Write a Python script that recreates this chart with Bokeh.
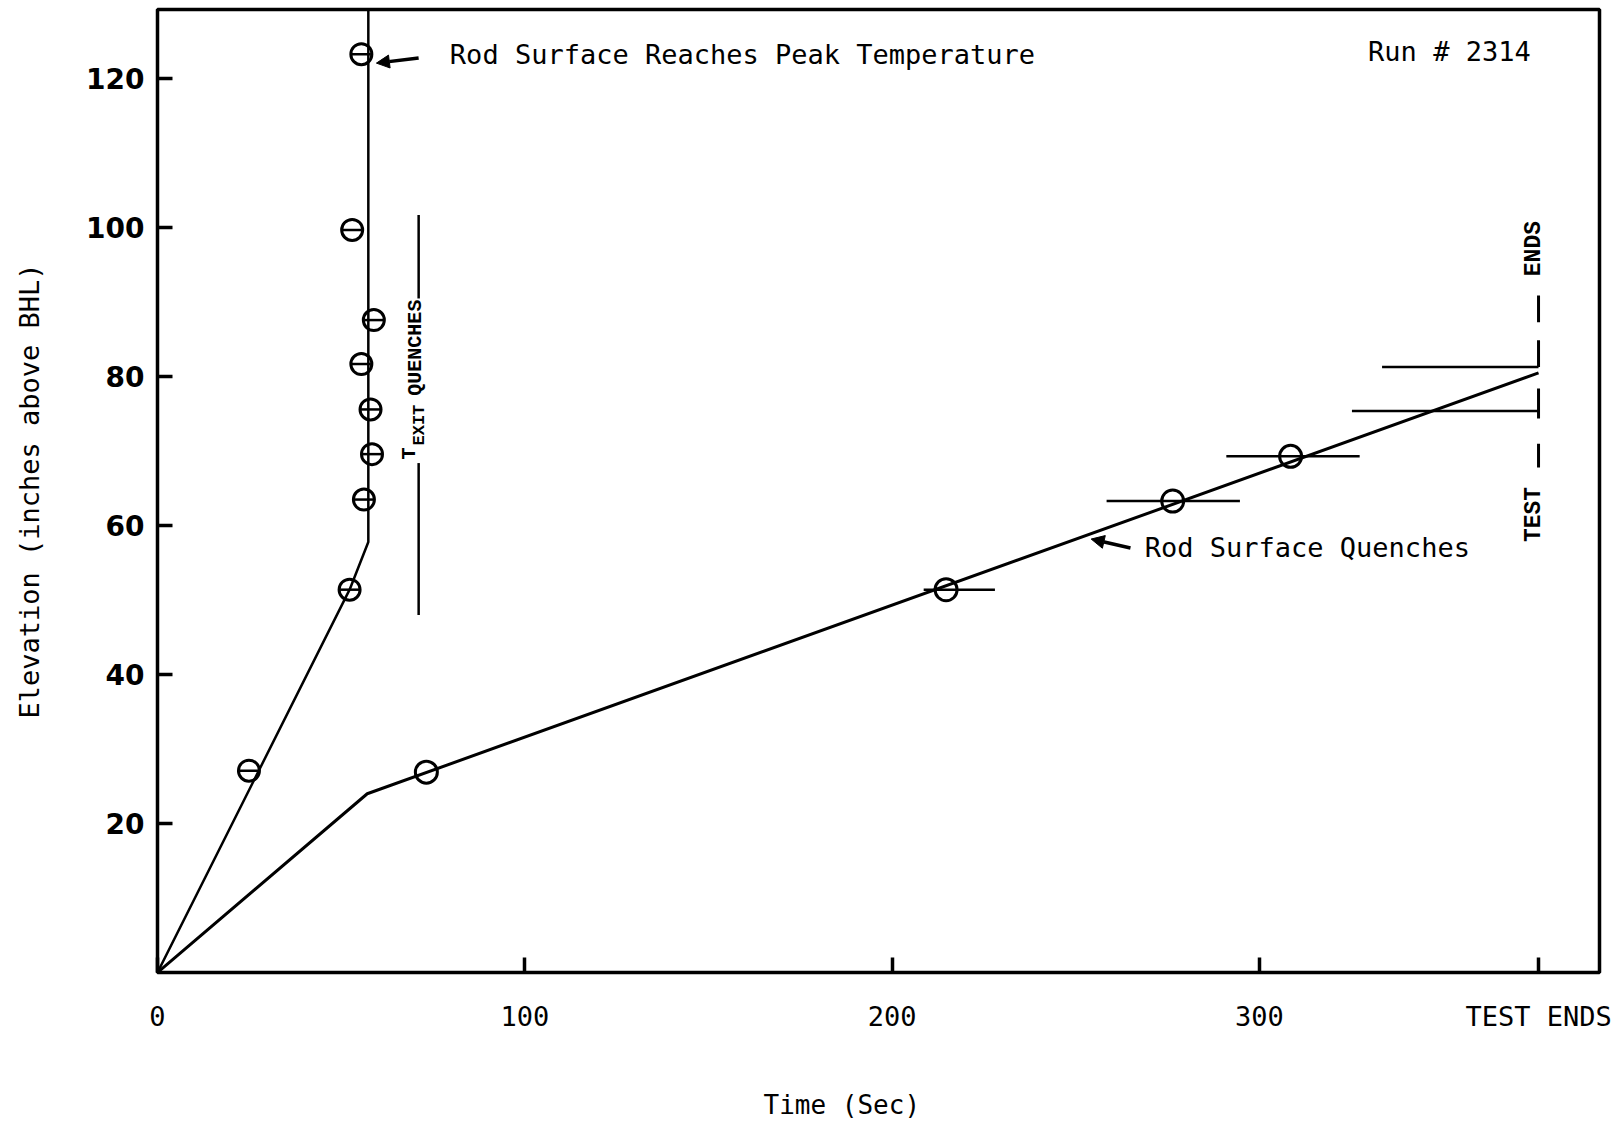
import math
from bokeh.plotting import figure
from bokeh.models import Range1d, FixedTicker, Arrow, NormalHead, Title
from bokeh.core.properties import value
from bokeh.embed import file_html
from bokeh.resources import INLINE

# ---- data ----
peak_time = [24.9, 52.3, 56.2, 58.4, 58.0, 55.5, 58.9, 53.0, 55.5]
peak_elev = [27.1, 51.4, 63.5, 69.6, 75.6, 81.7, 87.6, 99.7, 123.3]
peak_line_time = [0, 52.3, 57.4, 57.4]
peak_line_elev = [0, 51.4, 57.8, 129.3]

quench_time = [73.2, 214.7, 276.4, 308.5]
quench_elev = [26.9, 51.4, 63.3, 69.3]
quench_bar_elev = [51.4, 63.3, 69.3, 75.4, 81.3]
quench_bar_start = [208.6, 258.4, 291.0, 325.2, 333.4]
quench_bar_end = [228.0, 294.7, 327.3, 376.0, 376.0]
quench_line_time = [0, 57.1, 376.0]
quench_line_elev = [0, 24.0, 80.5]

test_end = 376.0
texit_time = 71.1
texit_seg_y0 = [101.7, 68.4]
texit_seg_y1 = [90.5, 48.0]
testend_seg_y0 = [90.9, 84.9, 78.4, 71.0]
testend_seg_y1 = [87.3, 81.3, 74.4, 67.8]

x_ticks = [0, 100, 200, 300, 376]
x_tick_labels = ["0", "100", "200", "300", "TEST ENDS"]
y_ticks = [20, 40, 60, 80, 100, 120]

MONO = value("DejaVu Sans Mono")
BOLDMONO = value("Liberation Mono")

p = figure(width=1614, height=1125, output_backend="svg", toolbar_location=None,
           x_range=Range1d(0, 392.6), y_range=Range1d(0, 129.3),
           min_border_left=157, min_border_right=15, min_border_top=9, min_border_bottom=153)
p.grid.visible = False
p.background_fill_color = "white"
p.border_fill_color = "white"
p.outline_line_color = "black"
p.outline_line_width = 3.5

# axes
p.xaxis.ticker = FixedTicker(ticks=x_ticks)
p.xaxis.major_label_overrides = {t: l for t, l in zip(x_ticks, x_tick_labels)}
p.yaxis.ticker = FixedTicker(ticks=y_ticks)
for ax in (p.xaxis[0], p.yaxis[0]):
    ax.axis_line_color = None
    ax.minor_tick_line_color = None
    ax.major_tick_in = 15
    ax.major_tick_out = 0
    ax.major_tick_line_width = 3.5
    ax.major_tick_line_color = "black"
    ax.major_label_text_color = "black"
    ax.axis_label_text_color = "black"
    ax.axis_label_text_font_style = "normal"
p.xaxis.major_label_text_font = "DejaVu Sans Mono"
p.xaxis.major_label_text_font_size = "27px"
p.xaxis.major_label_standoff = 28
p.yaxis.major_label_text_font = "DejaVu Sans"
p.yaxis.major_label_text_font_style = "bold"
p.yaxis.major_label_text_font_size = "28px"
p.yaxis.major_label_standoff = 13
p.yaxis.axis_label = "Elevation (inches above BHL)"
p.yaxis.axis_label_text_font = "DejaVu Sans Mono"
p.yaxis.axis_label_text_font_size = "27px"
p.yaxis.axis_label_standoff = 38

# spacing panel, then the x axis title below the axis
p.add_layout(Title(text="\u00a0", text_font_size="1px", standoff=50), "below")
p.add_layout(Title(text="Time (Sec)", align="left", offset=606, standoff=0,
                   text_font="DejaVu Sans Mono", text_font_size="26px",
                   text_font_style="normal", text_color="black"), "below")

# curves
p.line(peak_line_time, peak_line_elev, line_color="black", line_width=2.5)
p.line(quench_line_time, quench_line_elev, line_color="black", line_width=3)

# horizontal bars on quench points
p.segment(x0=quench_bar_start, y0=quench_bar_elev, x1=quench_bar_end, y1=quench_bar_elev,
          line_color="black", line_width=2.5)

# markers
p.scatter(peak_time, peak_elev, marker="circle", size=21, fill_color=None,
          line_color="black", line_width=3)
p.scatter(peak_time, peak_elev, marker="dash", size=19, line_color="black", line_width=2.5)
p.scatter(quench_time, quench_elev, marker="circle", size=22, fill_color=None,
          line_color="black", line_width=3)

# T_EXIT quenches marker
p.segment(x0=[texit_time] * 2, y0=texit_seg_y0, x1=[texit_time] * 2, y1=texit_seg_y1,
          line_color="black", line_width=2.5)
p.text(x=[70.3], y=[83.9], text=["QUENCHES"], angle=math.pi / 2,
       text_font=BOLDMONO, text_font_style="bold", text_font_size="20px",
       text_align="center", text_baseline="middle", text_color="black")
p.text(x=[71.3], y=[73.5], text=["EXIT"], angle=math.pi / 2,
       text_font=BOLDMONO, text_font_style="bold", text_font_size="17px",
       text_align="center", text_baseline="middle", text_color="black")
p.text(x=[68.7], y=[69.7], text=["T"], angle=math.pi / 2,
       text_font=BOLDMONO, text_font_style="bold", text_font_size="20px",
       text_align="center", text_baseline="middle", text_color="black")

# TEST ENDS marker on the right
p.segment(x0=[test_end] * 4, y0=testend_seg_y0, x1=[test_end] * 4, y1=testend_seg_y1,
          line_color="black", line_width=3)
p.text(x=[374.7, 374.7], y=[97.2, 61.5], text=["ENDS", "TEST"], angle=math.pi / 2,
       text_font=BOLDMONO, text_font_style="bold", text_font_size="23px",
       text_align="center", text_baseline="middle", text_color="black")

# annotations
p.text(x=[79.6], y=[123.2], text=["Rod Surface Reaches Peak Temperature"], text_font=MONO,
       text_font_size="27px", text_align="left", text_baseline="middle", text_color="black")
p.text(x=[329.6], y=[123.6], text=["Run # 2314"], text_font=MONO,
       text_font_size="27px", text_align="left", text_baseline="middle", text_color="black")
p.text(x=[268.8], y=[57.1], text=["Rod Surface Quenches"], text_font=MONO,
       text_font_size="27px", text_align="left", text_baseline="middle", text_color="black")

p.add_layout(Arrow(end=NormalHead(size=13, fill_color="black", line_color="black"),
                   x_start=71.1, y_start=122.8, x_end=59.6, y_end=122.1,
                   line_color="black", line_width=3.5))
p.add_layout(Arrow(end=NormalHead(size=13, fill_color="black", line_color="black"),
                   x_start=264.9, y_start=57.0, x_end=254.2, y_end=58.2,
                   line_color="black", line_width=3.5))

open("out.html", "w").write(file_html(p, INLINE))
